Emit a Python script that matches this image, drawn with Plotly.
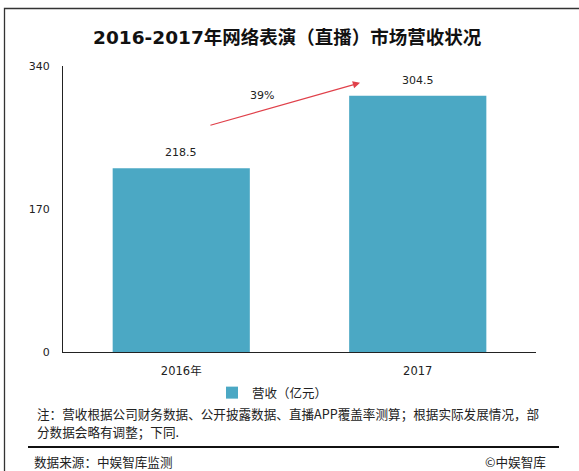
import plotly.graph_objects as go

# Revenue of the online performance (live streaming) market, 100M CNY
years = ["2016年", "2017"]
revenue = [218.5, 304.5]
growth_label = "39%"
y_ticks = [0, 170, 340]

title_text = "2016-2017年网络表演（直播）市场营收状况"
series_name = "营收（亿元）"
note_lines = [
    "注：营收根据公司财务数据、公开披露数据、直播APP覆盖率测算；根据实际发展情况，部",
    "分数据会略有调整；下同.",
]
source_text = "数据来源：中娱智库监测"
brand_text = "©中娱智库"

W, H = 579, 471
ML, MR, MT, MB = 63, 43, 66, 119
PW, PH = W - ML - MR, H - MT - MB

FONT = "DejaVu Sans, Noto Sans CJK SC, sans-serif"
CJK = "Noto Sans CJK SC, DejaVu Sans, sans-serif"
BAR = "#4BA8C4"
INK = "#222222"


def px(xp):
    return (xp - ML) / PW


def py(yp):
    return (H - MB - yp) / PH


xpos = list(range(len(years)))

fig = go.Figure()
fig.add_trace(go.Bar(
    x=xpos, y=revenue, name=series_name, width=0.58,
    marker=dict(color=BAR, line=dict(width=0)),
    showlegend=True,
))

annotations = []
# value labels above the bars
for xi, v in zip(xpos, revenue):
    annotations.append(dict(
        x=xi, y=v, xref="x", yref="y", text=f"{v}", showarrow=False,
        yanchor="bottom", yshift=7, font=dict(family=FONT, size=11, color=INK),
    ))

# growth arrow between the two years
annotations.append(dict(
    x=0.756, y=320, xref="x", yref="y",
    ax=0.117, ay=269, axref="x", ayref="y",
    showarrow=True, arrowhead=2, arrowsize=1.2, arrowwidth=1.2,
    arrowcolor="#E0404A", text="",
))
annotations.append(dict(
    x=0.341, y=305, xref="x", yref="y", text=growth_label, showarrow=False,
    font=dict(family=FONT, size=11, color=INK),
))

# footnotes
annotations.append(dict(
    x=px(35), y=py(413), xref="paper", yref="paper", text=note_lines[0],
    showarrow=False, xanchor="left", yanchor="middle",
    font=dict(family=CJK, size=12.6, color=INK),
))
annotations.append(dict(
    x=px(35), y=py(431), xref="paper", yref="paper", text=note_lines[1],
    showarrow=False, xanchor="left", yanchor="middle",
    font=dict(family=CJK, size=12.6, color=INK),
))
annotations.append(dict(
    x=px(32), y=py(461), xref="paper", yref="paper", text=source_text,
    showarrow=False, xanchor="left", yanchor="middle",
    font=dict(family=CJK, size=12.6, color=INK),
))
annotations.append(dict(
    x=px(548), y=py(461), xref="paper", yref="paper", text=brand_text,
    showarrow=False, xanchor="right", yanchor="middle",
    font=dict(family=CJK, size=12.6, color=INK),
))

shapes = [
    # outer frame
    dict(type="rect", xref="paper", yref="paper",
         x0=px(4.5), x1=px(W + 10), y0=py(H + 10), y1=py(8.5),
         line=dict(color="#333333", width=1.3), layer="below"),
    # separator above the source line
    dict(type="line", xref="paper", yref="paper",
         x0=px(28), x1=px(559), y0=py(447), y1=py(447),
         line=dict(color="#111111", width=2)),
]

fig.update_layout(
    width=W, height=H,
    margin=dict(l=ML, r=MR, t=MT, b=MB, pad=0),
    paper_bgcolor="white", plot_bgcolor="white",
    title=dict(text=title_text, x=0.496, xanchor="center", y=1 - 38 / H,
               yanchor="middle",
               font=dict(family=FONT, size=18.5, color="#111111", weight="bold")),
    showlegend=True,
    legend=dict(orientation="h", x=px(212), xanchor="left", y=py(393),
                yanchor="middle", font=dict(family=CJK, size=12.5, color=INK),
                bgcolor="rgba(0,0,0,0)", itemwidth=30),
    annotations=annotations,
    shapes=shapes,
    xaxis=dict(range=[-0.5, len(years) - 0.5], tickvals=xpos, ticktext=years,
               showline=True, linecolor="#222222", linewidth=1.3,
               showgrid=False, zeroline=False, ticks="", ticklabelstandoff=8,
               tickfont=dict(family=FONT, size=11.5, color=INK), fixedrange=True),
    yaxis=dict(range=[0, 340], tickvals=y_ticks, showline=True,
               linecolor="#222222", linewidth=1.3, showgrid=False, zeroline=False,
               ticks="", ticklabelstandoff=10,
               tickfont=dict(family=FONT, size=11, color=INK), fixedrange=True),
)

fig.write_html("out.html")
